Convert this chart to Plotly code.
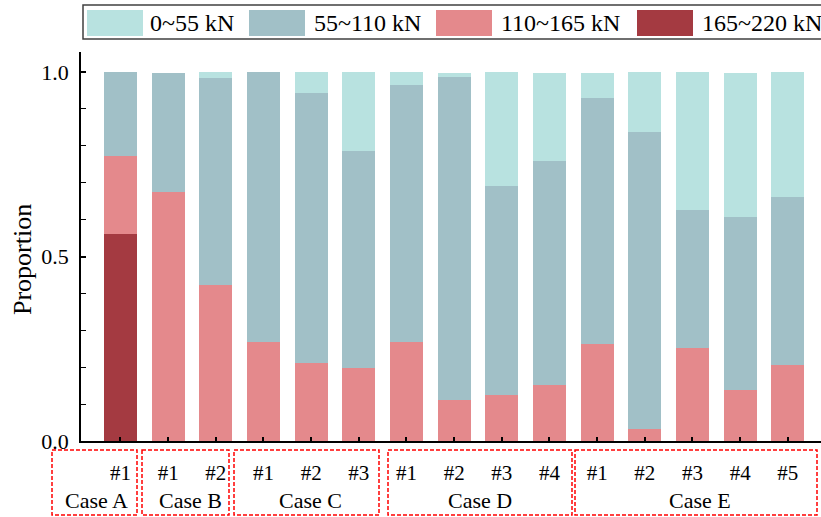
import plotly.graph_objects as go

# ---------------- data ----------------
sample_labels = ["#1", "#1", "#2", "#1", "#2", "#3", "#1", "#2", "#3", "#4",
                 "#1", "#2", "#3", "#4", "#5"]
case_names = ["Case A", "Case B", "Case C", "Case D", "Case E"]
series_names = ["0~55 kN", "55~110 kN", "110~165 kN", "165~220 kN"]

p_0_55 = [0.0, 0.0, 0.016, 0.0, 0.057, 0.214, 0.036, 0.011, 0.309, 0.238,
          0.067, 0.163, 0.374, 0.390, 0.339]
p_55_110 = [0.228, 0.321, 0.561, 0.731, 0.731, 0.588, 0.695, 0.874, 0.566, 0.607,
            0.666, 0.805, 0.373, 0.468, 0.455]
p_110_165 = [0.212, 0.676, 0.423, 0.269, 0.212, 0.198, 0.269, 0.112, 0.125, 0.152,
             0.264, 0.032, 0.253, 0.139, 0.206]
p_165_220 = [0.560, 0.0, 0.0, 0.0, 0.0, 0.0, 0.0, 0.0, 0.0, 0.0,
             0.0, 0.0, 0.0, 0.0, 0.0]

colors = ["#b8e2e0", "#a1c0c7", "#e4898c", "#a43a41"]

# ---------------- layout constants ----------------
W, H = 821, 517
L, R, T, B = 81, 0, 52, 76
PW, PH = W - L - R, H - T - B
FONT = "Liberation Serif, Times New Roman, serif"


def px(xp):
    return (xp - L) / PW


def py(yp):
    return (H - B - yp) / PH


x = list(range(len(sample_labels)))
fig = go.Figure()
stack = [(series_names[3], p_165_220, colors[3]),
         (series_names[2], p_110_165, colors[2]),
         (series_names[1], p_55_110, colors[1]),
         (series_names[0], p_0_55, colors[0])]
for name, vals, col in stack:
    fig.add_trace(go.Bar(x=x, y=vals, name=name, width=0.69,
                         marker=dict(color=col, line=dict(width=0)),
                         showlegend=False))

shapes = []
annotations = []

# group boxes (pixel extents) and case label centers
boxes = [(52, 137), (142, 229), (234, 379), (388, 572), (575, 817)]
label_cx = [96, 190, 310, 480, 700]
for (x0, x1), cx, name in zip(boxes, label_cx, case_names):
    shapes.append(dict(type="rect", xref="paper", yref="paper",
                       x0=px(x0), x1=px(x1), y0=py(450), y1=py(515),
                       line=dict(color="#ff0000", width=1.5, dash="4px,2px")))
    annotations.append(dict(xref="paper", yref="paper", x=px(cx), y=py(500),
                            text=name, showarrow=False, xanchor="center",
                            yanchor="middle",
                            font=dict(family=FONT, size=22, color="black")))

# custom legend
shapes.append(dict(type="rect", xref="paper", yref="paper",
                   x0=px(83), x1=px(830), y0=py(39), y1=py(5),
                   line=dict(color="#404040", width=1.5)))
sw = [87, 249, 436, 637]
tx = [148, 312, 499, 700]
for s, t, name, col in zip(sw, tx, series_names, colors):
    shapes.append(dict(type="rect", xref="paper", yref="paper",
                       x0=px(s), x1=px(s + 56), y0=py(36), y1=py(10),
                       fillcolor=col, line=dict(width=0)))
    annotations.append(dict(xref="paper", yref="paper", x=px(t), y=py(23),
                            text=name, showarrow=False, xanchor="left",
                            yanchor="middle",
                            font=dict(family=FONT, size=24, color="black")))

# y axis title
annotations.append(dict(xref="paper", yref="paper", x=px(22), y=py(260),
                        text="Proportion", textangle=-90, showarrow=False,
                        xanchor="center", yanchor="middle",
                        font=dict(family=FONT, size=26, color="black")))

unit = 47.7
x_lo = (L - 120.5) / unit
x_hi = 14 + (W - R - 787.8) / unit
y_hi = (H - B - T) / 369.0

fig.update_layout(
    width=W, height=H,
    margin=dict(l=L, r=R, t=T, b=B, pad=0),
    barmode="stack",
    plot_bgcolor="white", paper_bgcolor="white",
    font=dict(family=FONT, size=21, color="black"),
    shapes=shapes, annotations=annotations,
    xaxis=dict(range=[x_lo, x_hi], tickvals=x, ticktext=sample_labels,
               showline=True, linecolor="black", linewidth=1.5,
               ticks="inside", ticklen=4, tickwidth=1.5, tickcolor="black",
               showgrid=False, zeroline=False, ticklabelstandoff=12,
               tickfont=dict(family=FONT, size=21, color="black")),
    yaxis=dict(range=[0, y_hi], tickvals=[0, 0.5, 1.0], tickformat=".1f",
               showline=True, linecolor="black", linewidth=1.5,
               ticks="inside", ticklen=5, tickwidth=1.5, tickcolor="black",
               minor=dict(dtick=0.1, ticks="inside", ticklen=5, tickwidth=1,
                          tickcolor="black"),
               showgrid=False, zeroline=False, ticklabelstandoff=6,
               tickfont=dict(family=FONT, size=22, color="black")),
)

fig.write_html("out.html")
